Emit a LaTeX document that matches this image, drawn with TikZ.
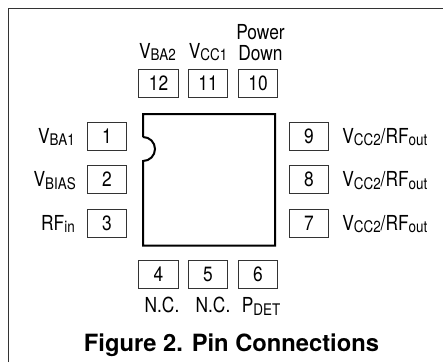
\documentclass[tikz,border=0pt]{standalone}
\usepackage{fontspec}
\setmainfont{TeX Gyre Heros}
\newfontfamily\narrowfont[FakeStretch=0.84]{TeX Gyre Heros}
\newcommand{\pinsub}[1]{\raisebox{-2.2pt}{\fontsize{12}{12}\selectfont #1}}
\begin{document}
\begin{tikzpicture}[x=0.75pt,y=-0.75pt,
  pin box/.style={draw=black!80,line width=0.6pt,minimum width=29.6pt,minimum height=21pt,inner sep=0pt,font=\narrowfont\fontsize{15.5}{16}\selectfont},
  pin label/.style={inner sep=0pt,font=\narrowfont\fontsize{15.5}{16}\selectfont},
  ]
  \useasboundingbox (0,0) rectangle (443,362);
  \coordinate (frame a) at (8.5,362);
  \coordinate (frame b) at (8.5,8.5);
  \coordinate (frame c) at (443,8.5);
  \draw[black!80,line width=0.85pt] (frame a) -- (frame b) -- (frame c);
  \draw[line width=1.5pt] (143,137) -- (143,114) -- (275,114) -- (275,245.5) -- (143,245.5) -- (143,161)
     arc (90:-90:12);
  \node[pin box] (p12) at (158.5,83.5) {12};
  \node[pin box] (p11) at (208,83.5) {11};
  \node[pin box] (p10) at (258,83.5) {10};
  \node[pin box] (p1) at (107,136) {1};
  \node[pin box] (p2) at (107,179.5) {2};
  \node[pin box] (p3) at (107,223) {3};
  \node[pin box] (p9) at (309,136) {9};
  \node[pin box] (p8) at (309,179.5) {8};
  \node[pin box] (p7) at (309,223) {7};
  \node[pin box] (p4) at (158.5,274.5) {4};
  \node[pin box] (p5) at (208,274.5) {5};
  \node[pin box] (p6) at (258,274.5) {6};
  \node[pin label,anchor=base] (l12) at (157.5,58) {V\pinsub{BA2}};
  \node[pin label,anchor=base] (l11) at (208,58) {V\pinsub{CC1}};
  \node[pin label,anchor=base] (l10a) at (260.5,39) {Power};
  \node[pin label,anchor=base] (l10b) at (260.5,60) {Down};
  \node[pin label,anchor=base east] (l1) at (75,143) {V\pinsub{BA1}};
  \node[pin label,anchor=base east] (l2) at (76,186.5) {V\pinsub{BIAS}};
  \node[pin label,anchor=base east] (l3) at (75,230) {RF\pinsub{in}};
  \node[pin label,anchor=base west] (l9) at (342,143) {V\pinsub{CC2}/RF\pinsub{out}};
  \node[pin label,anchor=base west] (l8) at (342,186.5) {V\pinsub{CC2}/RF\pinsub{out}};
  \node[pin label,anchor=base west] (l7) at (342,230) {V\pinsub{CC2}/RF\pinsub{out}};
  \node[pin label,anchor=base] (l4) at (162,312.5) {N.C.};
  \node[pin label,anchor=base] (l5) at (213,312.5) {N.C.};
  \node[pin label,anchor=base] (l6) at (261,312.5) {P\pinsub{DET}};
  \node[inner sep=0pt,anchor=base,font=\fontsize{17.8}{18}\selectfont\bfseries] (title) at (231.5,351) {Figure 2. Pin Connections};
\end{tikzpicture}
\end{document}
